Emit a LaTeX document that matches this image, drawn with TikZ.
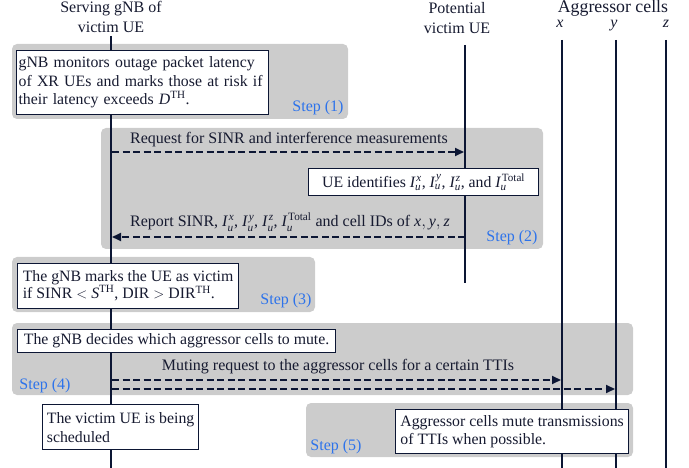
\documentclass[tikz,border=0pt]{standalone}
\usepackage{amsmath}
\usepackage{fontspec}
\setmainfont{Liberation Serif}
\setmathrm{Liberation Serif}
\usetikzlibrary{arrows.meta}
\definecolor{navy}{RGB}{12,22,52}
\definecolor{txt}{RGB}{22,26,48}
\definecolor{stepblue}{RGB}{45,115,235}
\definecolor{graybg}{RGB}{204,204,204}
\newcommand{\Iu}[1]{\textit{I}_{\textit{u}}^{\mkern2mu #1}}
\newcommand{\vi}[1]{\textit{#1}}
\tikzset{
  phase/.style={fill=graybg, draw=none, rounded corners=5pt},
  lifeline/.style={draw=navy, line width=2pt},
  note/.style={draw=navy, fill=white, line width=1.2pt, anchor=north west, align=left,
    inner sep=0pt, text=txt, font=\fontsize{15.8}{18.5}\selectfont},
  msg/.style={draw=navy, line width=2pt, dash pattern=on 7pt off 3.5pt,
    -{Triangle[length=9pt,width=8pt]}},
  steplbl/.style={text=stepblue, font=\fontsize{16}{19}\selectfont, anchor=base, inner sep=0pt},
  lbl/.style={text=txt, font=\fontsize{16}{20}\selectfont, align=center, inner sep=0pt},
  msglbl/.style={text=txt, font=\fontsize{16}{19}\selectfont, anchor=base, inner sep=0pt},
}
\begin{document}
\begin{tikzpicture}[x=1pt, y=-1pt]
\useasboundingbox (0,0) rectangle (689,468);

% phase backgrounds
\path[phase] (12,44) rectangle (348,119);
\path[phase] (101,128) rectangle (543,249);
\path[phase] (12,257) rectangle (315,312);
\path[phase] (12,323) rectangle (633,395);
\path[phase] (306,403) rectangle (633,457);

% headers
\node[lbl] (hgnb) at (111,17) {Serving gNB of\\victim UE};
\node[lbl] (hue) at (457,18) {Potential\\victim UE};
\node[lbl, anchor=base, font=\fontsize{17.8}{20}\selectfont] (hagg) at (613,13) {Aggressor cells};
\node[lbl, anchor=base] (hx) at (560,28) {\textit{x}};
\node[lbl, anchor=base] (hy) at (614,28) {\textit{y}};
\node[lbl, anchor=base] (hz) at (666,28) {\textit{z}};

% lifelines
\coordinate (gTop) at (111,36);  \coordinate (gBot) at (111,468);
\coordinate (uTop) at (465,45);  \coordinate (uBot) at (465,283);
\coordinate (xTop) at (562,40);  \coordinate (xBot) at (562,468);
\coordinate (yTop) at (616,40);  \coordinate (yBot) at (616,468);
\coordinate (zTop) at (666,40);  \coordinate (zBot) at (666,468);
\draw[lifeline] (gTop) -- (gBot);
\draw[lifeline] (uTop) -- (uBot);
\draw[lifeline] (xTop) -- (xBot);
\draw[lifeline] (yTop) -- (yBot);
\draw[lifeline] (zTop) -- (zBot);

% step 1
\node[note, text width=248pt, inner xsep=2pt, minimum height=64pt] (n1) at (16,50)
  {gNB monitors outage packet latency\\of XR UEs and marks those at risk if\\their latency exceeds $\vi{D}^{\text{TH}}$.};
\node[steplbl] (s1) at (318,112) {Step (1)};

% step 2
\coordinate (reqS) at (112,152); \coordinate (reqE) at (464,152);
\draw[msg] (reqS) -- (reqE);
\node[msglbl] (reqL) at (289,144) {Request for SINR and interference measurements};
\node[note, align=center, minimum width=230pt, minimum height=27pt] (n2) at (308,168)
  {UE identifies $\Iu{\vi{x}}$, $\Iu{\vi{y}}$, $\Iu{\vi{z}}$, and $\Iu{\text{Total}}$};
\coordinate (repS) at (465,237); \coordinate (repE) at (112,237);
\draw[msg] (repS) -- (repE);
\node[msglbl] (repL) at (290,227) {Report SINR, $\Iu{\vi{x}}$, $\Iu{\vi{y}}$, $\Iu{\vi{z}}$, $\Iu{\text{Total}}$ and cell IDs of $\vi{x}, \vi{y}, \vi{z}$};
\node[steplbl] (s2) at (512,242) {Step (2)};

% step 3
\node[note, minimum width=221pt, minimum height=45pt,
  font=\fontsize{15.8}{17}\selectfont] (n3) at (17,263)
  {The gNB marks the UE as victim\\if SINR $<$ $\vi{S}^{\text{TH}}$, DIR $>$ DIR$^{\text{TH}}$.};
\node[steplbl] (s3) at (286,305) {Step (3)};

% step 4
\node[note, align=center, minimum width=318pt, minimum height=23pt] (n4) at (17,329)
  {The gNB decides which aggressor cells to mute.};
\node[msglbl] (muteL) at (338,370) {Muting request to the aggressor cells for a certain TTIs};
\coordinate (m1S) at (112,380); \coordinate (m1E) at (561,380);
\coordinate (m2S) at (112,389); \coordinate (m2E) at (615,389);
\draw[msg] (m1S) -- (m1E);
\draw[msg] (m2S) -- (m2E);
\node[steplbl] (s4) at (45,389) {Step (4)};

% victim scheduled
\node[note, minimum width=156pt, minimum height=45pt, font=\fontsize{15.8}{19}\selectfont] (n6) at (42,404)
  {The victim UE is being\\scheduled};

% step 5
\node[note, minimum width=233pt, minimum height=44pt] (n5) at (395,409)
  {Aggressor cells mute transmissions\\of TTIs when possible.};
\node[steplbl] (s5) at (336,450) {Step (5)};
\end{tikzpicture}
\end{document}
